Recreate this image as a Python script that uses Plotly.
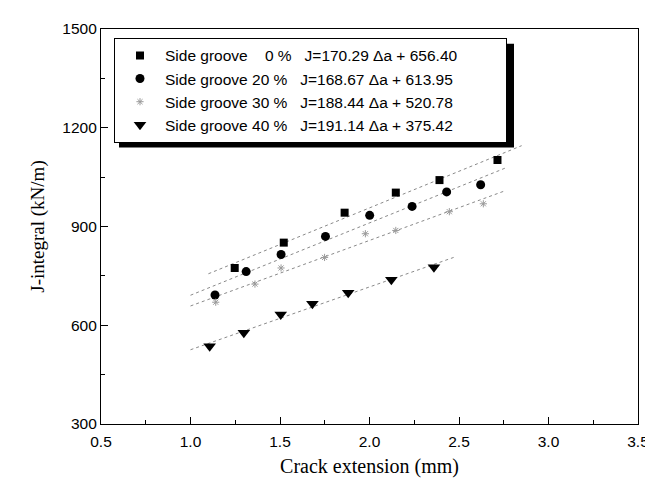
import numpy as np
import plotly.graph_objects as go

# ---- data ----
NB = "\u00a0"
labels = ["Side groove" + NB * 4 + "0 %" + NB * 3 + "J=170.29 \u0394a + 656.40" + NB * 10,
          "Side groove" + NB + "20 %" + NB * 3 + "J=168.67 \u0394a + 613.95" + NB * 10,
          "Side groove" + NB + "30 %" + NB * 3 + "J=188.44 \u0394a + 520.78" + NB * 10,
          "Side groove" + NB + "40 %" + NB * 3 + "J=191.14 \u0394a + 375.42" + NB * 10]

x0 = [1.247, 1.521, 1.861, 2.147, 2.391, 2.715]
y0 = [774, 851, 942, 1003, 1041, 1102]

x20 = [1.137, 1.311, 1.506, 1.754, 2.001, 2.238, 2.431, 2.621]
y20 = [692, 763, 815, 870, 934, 961, 1005, 1027]

x30 = [1.141, 1.360, 1.506, 1.749, 1.977, 2.147, 2.446, 2.636]
y30 = [670, 725, 774, 806, 878, 888, 945, 969]

x40 = [1.107, 1.298, 1.504, 1.681, 1.881, 2.122, 2.360]
y40 = [536, 577, 633, 665, 699, 738, 776]

# x-extent of each dotted fit line
fit_range0 = [1.10, 2.85]
fit_range20 = [1.00, 2.77]
fit_range30 = [1.00, 2.76]
fit_range40 = [1.00, 2.47]

x_ticks = [0.5, 1.0, 1.5, 2.0, 2.5, 3.0, 3.5]
y_ticks = [300, 600, 900, 1200, 1500]

series = [
    (x0, y0, fit_range0, dict(symbol="square", size=8, color="black")),
    (x20, y20, fit_range20, dict(symbol="circle", size=9, color="black")),
    (x30, y30, fit_range30, dict(symbol="asterisk-open", size=6, color="#9a9a9a",
                                 line=dict(color="#9a9a9a", width=1))),
    (x40, y40, fit_range40, dict(symbol="triangle-down", size=11, color="black")),
]

fig = go.Figure()
for (xs, ys, rng, mk), lab in zip(series, labels):
    k, b = np.polyfit(xs, ys, 1)
    lx = np.array(rng)
    fig.add_trace(go.Scatter(x=lx, y=k * lx + b, mode="lines", showlegend=False,
                             line=dict(color="#8a8a8a", width=1, dash="dot"),
                             hoverinfo="skip"))
for (xs, ys, rng, mk), lab in zip(series, labels):
    fig.add_trace(go.Scatter(x=xs, y=ys, mode="markers", name=lab, marker=mk))

W, H = 653, 478
L, R, T, B = 93, 23, 16, 59
pw, ph = W - L - R, H - T - B

def px(xpix):
    return (xpix - L) / pw

def py(ypix):
    return (H - B - ypix) / ph

# legend drop shadow
fig.add_shape(type="rect", xref="paper", yref="paper",
              x0=px(111), x1=px(506), y0=py(137), y1=py(31),
              fillcolor="black", line=dict(width=0), layer="above")

axis_common = dict(showline=True, linecolor="black", linewidth=1.2, mirror=True,
                   ticks="inside", ticklen=7, tickcolor="black", tickwidth=1,
                   showgrid=False, zeroline=False,
                   tickfont=dict(family="Liberation Sans, Arial", size=15.5, color="black"))

fig.update_layout(
    width=W, height=H,
    margin=dict(l=L, r=R, t=T, b=B),
    paper_bgcolor="white", plot_bgcolor="white",
    xaxis=dict(range=[0.5, 3.5], tickvals=x_ticks, ticktext=[f"{v:.1f}" for v in x_ticks],
               minor=dict(dtick=0.25, ticks="inside", ticklen=4, tickcolor="black"),
               ticklabelstandoff=3,
               title=dict(text="Crack extension (mm)", standoff=10,
                          font=dict(family="Liberation Serif, Times New Roman", size=20, color="black")),
               **axis_common),
    yaxis=dict(range=[300, 1500], tickvals=y_ticks,
               minor=dict(dtick=150, ticks="inside", ticklen=4, tickcolor="black"),
               title=dict(text="J-integral (kN/m)", standoff=12,
                          font=dict(family="Liberation Serif, Times New Roman", size=19, color="black")),
               **axis_common),
    legend=dict(x=px(106), y=py(25), xanchor="left", yanchor="top",
                bgcolor="white", bordercolor="black", borderwidth=1,
                font=dict(family="Liberation Sans, Arial", size=15.5, color="black"),
                itemwidth=40, tracegroupgap=0),
    showlegend=True,
)

fig.write_html("out.html")
